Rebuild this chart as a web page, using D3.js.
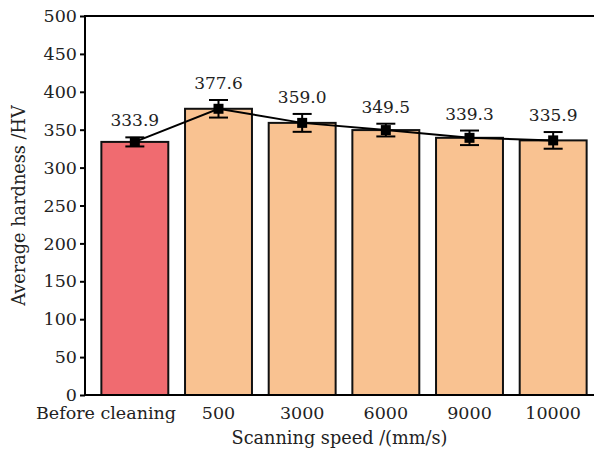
<!DOCTYPE html>
<html><head><meta charset="utf-8">
<script src="https://cdn.jsdelivr.net/npm/d3@7"></script>
<style>body{margin:0;background:#fff}svg{display:block}text{font-family:"DejaVu Serif","Liberation Serif",serif;fill:#222}</style>
</head><body><svg id="c" width="594" height="455"></svg>
<script>
const categories = ["Before cleaning","500","3000","6000","9000","10000"];
const hardness = [333.9,377.6,359.0,349.5,339.3,335.9];
const errors = [6,11.6,11.8,8.4,9.6,11];
const yTicks = [0,50,100,150,200,250,300,350,400,450,500];
const labels = ["333.9","377.6","359.0","349.5","339.3","335.9"];

const svg = d3.select("#c");
const m = {l:85, t:16, r:0, b:60};
const W = 594, H = 455;
const x = d3.scaleBand().domain(categories).range([93, 595]).paddingInner(0.2).paddingOuter(0.1);
const y = d3.scaleLinear().domain([0,500]).range([395,16]);

// bars
svg.selectAll("rect.bar").data(hardness).join("rect")
  .attr("class","bar")
  .attr("x",(d,i)=>x(categories[i]))
  .attr("width",x.bandwidth())
  .attr("y",d=>y(d))
  .attr("height",d=>y(0)-y(d))
  .attr("fill",(d,i)=>i===0?"#f06b70":"#f9c291")
  .attr("stroke","#111").attr("stroke-width",2);

// line
const cx = i => x(categories[i]) + x.bandwidth()/2;
svg.append("path").datum(hardness)
  .attr("d", d3.line().x((d,i)=>cx(i)).y(d=>y(d)))
  .attr("fill","none").attr("stroke","#000").attr("stroke-width",2);

// error bars
const eg = svg.selectAll("g.err").data(hardness).join("g").attr("class","err");
eg.append("line").attr("x1",(d,i)=>cx(i)).attr("x2",(d,i)=>cx(i))
  .attr("y1",(d,i)=>y(d+errors[i])).attr("y2",(d,i)=>y(d-errors[i]))
  .attr("stroke","#000").attr("stroke-width",2);
[1,-1].forEach(s=>{
  eg.append("line").attr("x1",(d,i)=>cx(i)-9.5).attr("x2",(d,i)=>cx(i)+9.5)
    .attr("y1",(d,i)=>y(d+s*errors[i])).attr("y2",(d,i)=>y(d+s*errors[i]))
    .attr("stroke","#000").attr("stroke-width",2);
});
eg.append("rect").attr("x",(d,i)=>cx(i)-5).attr("y",d=>y(d)-5).attr("width",10).attr("height",10).attr("fill","#000");

// value labels
svg.selectAll("text.val").data(hardness).join("text").attr("class","val")
  .attr("x",(d,i)=>cx(i)).attr("y",(d,i)=>y(d+errors[i])-11)
  .attr("text-anchor","middle").attr("font-size",17).text((d,i)=>labels[i]);

// frame
svg.append("path").attr("d",`M${m.l},${y(0)}V${y(500)}H${W+2}`).attr("fill","none").attr("stroke","#000").attr("stroke-width",2);
svg.append("line").attr("x1",m.l).attr("x2",W+2).attr("y1",y(0)).attr("y2",y(0)).attr("stroke","#000").attr("stroke-width",2);

// y axis
const ya = svg.append("g").attr("transform",`translate(${m.l},0)`)
  .call(d3.axisLeft(y).tickValues(yTicks).tickSize(5).tickPadding(3));
ya.select(".domain").remove();
ya.selectAll("line").attr("stroke","#000").attr("stroke-width",2);
ya.selectAll("text").attr("font-size",17.5).attr("font-family","DejaVu Serif").attr("fill","#222").attr("dy","0.32em");

// x axis
const xa = svg.append("g").attr("transform",`translate(0,${y(0)})`)
  .call(d3.axisBottom(x).tickSize(0).tickPadding(12));
xa.select(".domain").remove();
xa.selectAll("text").attr("font-size",17.5).attr("font-family","DejaVu Serif").attr("fill","#222");
xa.selectAll("text").filter(d=>d===categories[0]).attr("text-anchor","end").attr("x",176-cx(0));

// titles
svg.append("text").attr("x",(m.l+W)/2).attr("y",444).attr("text-anchor","middle").attr("font-size",17.7).text("Scanning speed /(mm/s)");
svg.append("text").attr("transform",`translate(25,${(y(0)+y(500))/2}) rotate(-90)`).attr("text-anchor","middle").attr("font-size",17.7).text("Average hardness /HV");
</script></body></html>
